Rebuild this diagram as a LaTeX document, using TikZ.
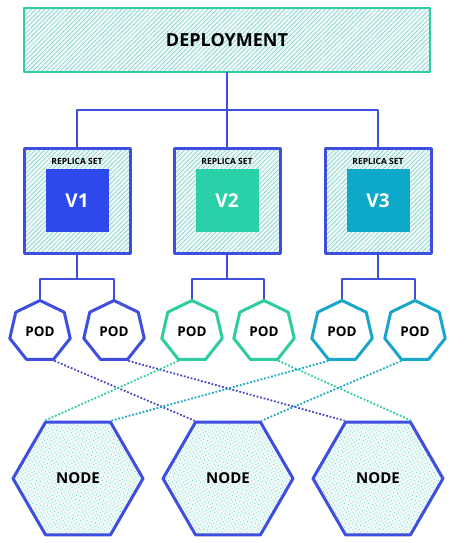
\documentclass[tikz,border=0pt]{standalone}
\usepackage{fontspec}
\setmainfont{Open Sans}
\usetikzlibrary{shapes.geometric,patterns.meta}
\definecolor{treeblue}{RGB}{62,78,222}
\definecolor{vone}{RGB}{45,72,235}
\definecolor{vtwo}{RGB}{42,208,168}
\definecolor{vthree}{RGB}{14,168,200}
\definecolor{podgreen}{RGB}{46,204,160}
\definecolor{podcyan}{RGB}{26,166,200}
\definecolor{linkblue}{RGB}{72,72,196}
\definecolor{hatchc}{RGB}{110,205,195}
\begin{document}
\begin{tikzpicture}[x=1pt,y=-1pt, line join=round, font=\bfseries,
	hatch/.style={preaction={fill=hatchc!12},pattern={Lines[angle=45,distance=3.2pt,line width=0.5pt]},pattern color=hatchc},
	dots/.style={preaction={fill=hatchc!10},pattern={Dots[angle=30,distance=3pt,radius=0.55pt]},pattern color=hatchc},
	rsbox/.style={draw=treeblue,line width=3pt,minimum width=106pt,minimum height=105pt,inner sep=0pt,hatch},
	ver/.style={minimum size=63pt,inner sep=0pt,text=white,font=\bfseries\fontsize{19}{19}\selectfont},
	pod/.style={regular polygon,regular polygon sides=7,minimum size=62pt,inner sep=0pt,line width=3pt,fill=white,font=\bfseries\fontsize{13.5}{13.5}\selectfont},
	hexnode/.style={regular polygon,regular polygon sides=6,minimum size=130pt,inner sep=0pt,draw=treeblue,line width=3pt,dots,font=\bfseries\fontsize{15}{15}\selectfont},
	tree/.style={draw=treeblue,line width=2pt},
	link/.style={line width=1.8pt,dash pattern=on 1.8pt off 1.8pt}]
	\useasboundingbox (0,0) rectangle (476,543);
	% deployment
	\node[draw=podgreen,line width=2.5pt,hatch,minimum width=406pt,minimum height=64pt,inner sep=0pt,font=\bfseries\fontsize{18}{18}\selectfont] (dep) at (227,40) {DEPLOYMENT};
	% replica sets
	\foreach \n/\x/\c in {1/77/vone,2/227/vtwo,3/378/vthree}{
		\node[rsbox] (rs\n) at (\x,200.5) {};
		\node[ver,fill=\c] (v\n) at (\x,200.5) {V\n};
		\node[font=\bfseries\fontsize{8.5}{8.5}\selectfont,inner sep=0pt] (rl\n) at ([yshift=-15pt]rs\n.north) {REPLICA SET};
	}
	\draw[tree] (dep.south) -- (rs2.north);
	\draw[tree] (rs1.north) |- (227,110) -| (rs3.north);
	% pods
	\foreach \n/\x/\c in {1/40/treeblue,2/114/treeblue,3/192/podgreen,4/264/podgreen,5/342/podcyan,6/415/podcyan}
		\node[pod,draw=\c] (pod\n) at (\x,331.5) {POD};
	\foreach \r/\a/\b in {1/1/2,2/3/4,3/5/6}{
		\coordinate (j\r) at ([yshift=-24pt]rs\r.south);
		\draw[tree] (rs\r.south) -- (j\r);
		\draw[tree] (pod\a.north) |- (j\r) -| (pod\b.north);
	}
	% nodes
	\foreach \n/\x in {1/78,2/228,3/378}
		\node[hexnode] (hn\n) at (\x,478.5) {NODE};
	\draw[link,linkblue] (pod1.-64.3) -- (hn2.120);
	\draw[link,linkblue] (pod2.-64.3) -- (hn3.120);
	\draw[link,podgreen] (pod3.-115.7) -- (hn1.120);
	\draw[link,podgreen] (pod4.-64.3) -- (hn3.60);
	\draw[link,podcyan] (pod5.-115.7) -- (hn1.60);
	\draw[link,podcyan] (pod6.-115.7) -- (hn2.60);
\end{tikzpicture}
\end{document}
